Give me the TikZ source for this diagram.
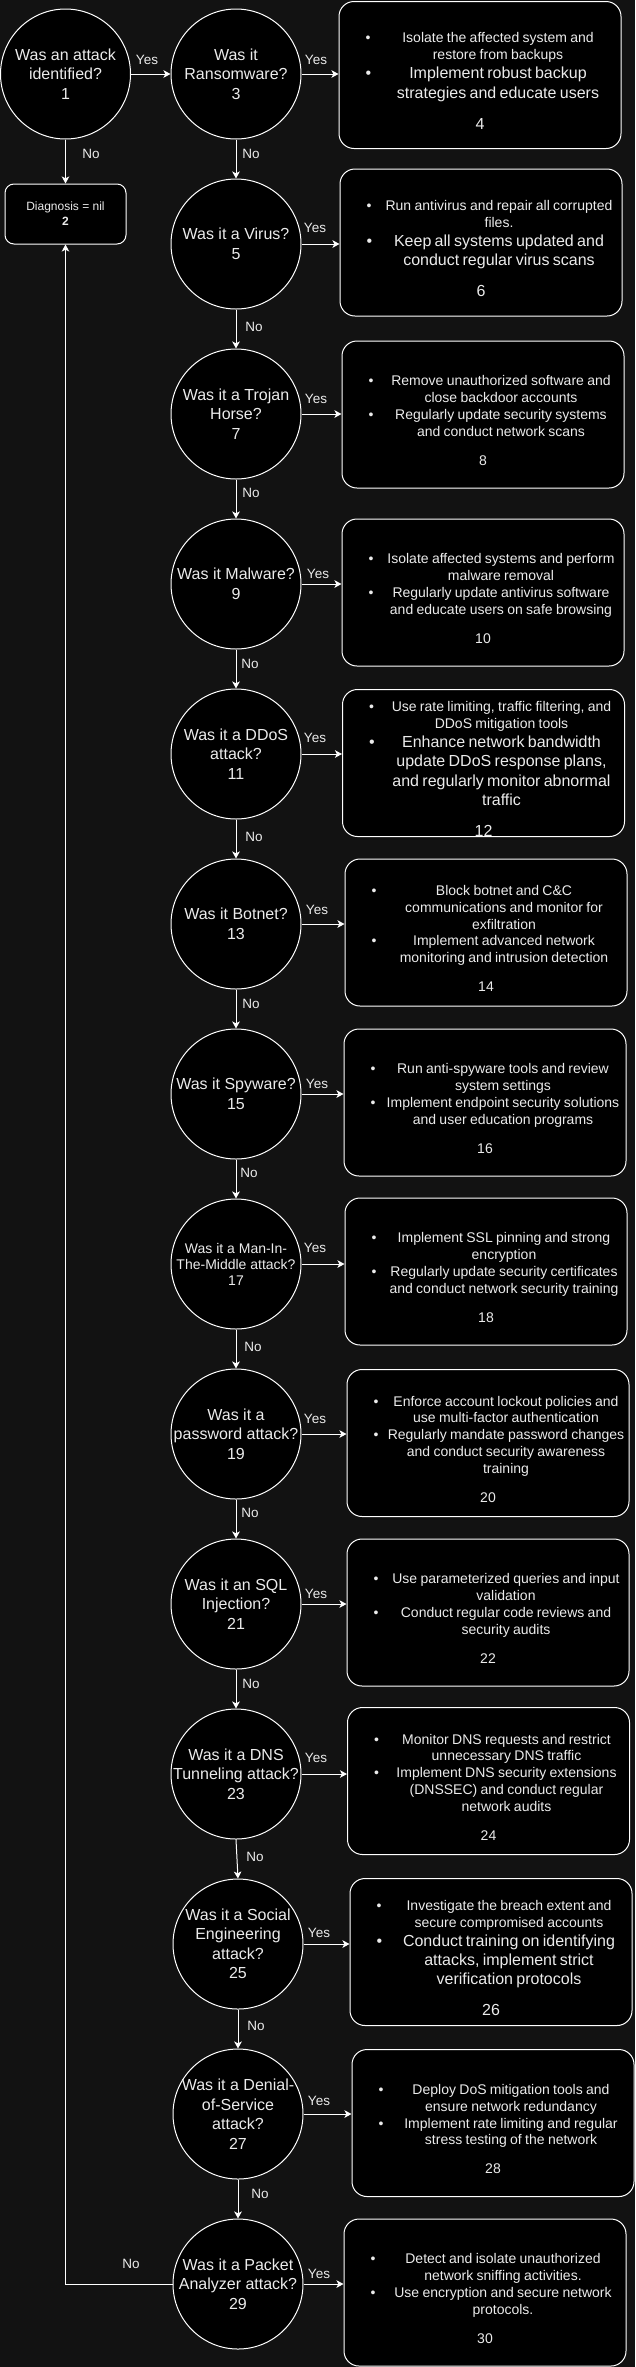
\documentclass[tikz,border=0pt]{standalone}
\usepackage{fontspec}
\setmainfont{Liberation Sans}
\usetikzlibrary{arrows.meta,shapes.geometric}
\definecolor{bgc}{RGB}{18,18,18}
\definecolor{fgc}{RGB}{235,235,235}
\newcommand\fsA{\fontsize{14}{16.8}\selectfont}
\newcommand\fsB{\fontsize{16}{19.2}\selectfont}
\newcommand\fsE{\fontsize{16}{19.5}\selectfont}
\newcommand\fsM{\fontsize{14}{16}\selectfont}
\newcommand\fsL{\fontsize{13.5}{16}\selectfont}
\newcommand\fsD{\fontsize{12}{15}\selectfont}
\newcommand\bitem[2]{{#1\noindent\hspace*{26.5pt}\makebox[10pt][l]{\textbullet}\parbox[t]{245pt}{\centering #2\strut}\par\prevdepth=\dp\strutbox}}
\newcommand\bnum[2]{{#1\vspace{12pt}\centering\noindent #2\par}}
\tikzset{
  ell/.style={ellipse, draw=white, fill=black, line width=1pt, minimum width=130pt, minimum height=130pt, inner sep=0pt},
  etext/.style={align=center, font=\fsE, text=fgc, inner sep=0pt},
  box/.style={draw=white, fill=black, line width=1pt, rounded corners=15pt, minimum width=282pt, minimum height=147pt, inner sep=0pt},
  box2/.style={draw=white, fill=black, line width=1pt, rounded corners=9pt, minimum width=121pt, minimum height=60pt, inner sep=0pt},
  btext/.style={text width=282pt, inner sep=0pt, text=fgc},
  lab/.style={font=\fsL, text=fgc, inner sep=0pt},
  arr/.style={draw=white, line width=1pt, -{Stealth[length=7pt,width=7.5pt,inset=1.8pt]}},
}
\begin{document}
\begin{tikzpicture}[x=1pt,y=-1pt]
\fill[bgc] (0,0) rectangle (635,2367);
\useasboundingbox (0,0) rectangle (635,2367);

% decision ellipses
\node[ell] (n1) at (65.5,74) {};
\node[ell] (n3) at (236,74) {};
\node[ell] (n5) at (236,244) {};
\node[ell] (n7) at (236,414) {};
\node[ell] (n9) at (236,584) {};
\node[ell] (n11) at (236,754) {};
\node[ell] (n13) at (236,924) {};
\node[ell] (n15) at (236,1094) {};
\node[ell] (n17) at (236,1264) {};
\node[ell] (n19) at (236,1434) {};
\node[ell] (n21) at (236,1604) {};
\node[ell] (n23) at (236,1774) {};
\node[ell] (n25) at (238,1944) {};
\node[ell] (n27) at (238,2114) {};
\node[ell] (n29) at (238,2284) {};

\node[etext] (q1) at (n1) {Was an attack\\identified?\\1};
\node[etext] (q3) at (n3) {Was it\\Ransomware?\\3};
\node[etext] (q5) at (n5) {Was it a Virus?\\5};
\node[etext] (q7) at (n7) {Was it a Trojan\\Horse?\\7};
\node[etext] (q9) at (n9) {Was it Malware?\\9};
\node[etext] (q11) at (n11) {Was it a DDoS\\attack?\\11};
\node[etext] (q13) at (n13) {Was it Botnet?\\13};
\node[etext] (q15) at (n15) {Was it Spyware?\\15};
\node[etext, font=\fsM] (q17) at (n17) {Was it a Man-In-\\The-Middle attack?\\17};
\node[etext] (q19) at (n19) {Was it a\\password attack?\\19};
\node[etext] (q21) at (n21) {Was it an SQL\\Injection?\\21};
\node[etext] (q23) at (n23) {Was it a DNS\\Tunneling attack?\\23};
\node[etext] (q25) at (n25) {Was it a Social\\Engineering\\attack?\\25};
\node[etext] (q27) at (n27) {Was it a Denial-\\of-Service\\attack?\\27};
\node[etext] (q29) at (n29) {Was it a Packet\\Analyzer attack?\\29};

% diagnosis box
\node[box2] (b2) at (65.5,214) {};
\node[align=center, font=\fsD, text=fgc, inner sep=0pt] (q2) at (b2) {Diagnosis = nil\\\textbf{2}};

% action boxes
\node[box] (b4) at (480,75) {};
\node[box] (b6) at (481,242.5) {};
\node[box] (b8) at (483,414.5) {};
\node[box] (b10) at (483,592.5) {};
\node[box] (b12) at (483.5,763) {};
\node[box] (b14) at (486,932.5) {};
\node[box] (b16) at (485,1102.5) {};
\node[box] (b18) at (486,1271.5) {};
\node[box] (b20) at (488,1443) {};
\node[box] (b22) at (488,1612.5) {};
\node[box] (b24) at (488.5,1781) {};
\node[box] (b26) at (491,1952) {};
\node[box] (b28) at (493,2123) {};
\node[box] (b30) at (485,2292.5) {};

\node[btext] (t4) at ([yshift=-6pt]b4.center) {\bitem\fsA{Isolate the affected system and\\restore from backups}\bitem\fsB{Implement robust backup\\strategies and educate users}\bnum\fsB{4}};
\node[btext] (t6) at ([yshift=-6pt]b6.center) {\bitem\fsA{Run antivirus and repair all corrupted\\files.}\bitem\fsB{Keep all systems updated and\\conduct regular virus scans}\bnum\fsB{6}};
\node[btext] (t8) at ([yshift=-6pt]b8.center) {\bitem\fsA{Remove unauthorized software and\\close backdoor accounts}\bitem\fsA{Regularly update security systems\\and conduct network scans}\bnum\fsA{8}};
\node[btext] (t10) at ([yshift=-6pt]b10.center) {\bitem\fsA{Isolate affected systems and perform\\malware removal}\bitem\fsA{Regularly update antivirus software\\and educate users on safe browsing}\bnum\fsA{10}};
\node[btext] (t12) at ([yshift=-6pt]b12.center) {\bitem\fsA{Use rate limiting, traffic filtering, and\\DDoS mitigation tools}\bitem\fsB{Enhance network bandwidth\\update DDoS response plans,\\and regularly monitor abnormal\\traffic}\bnum\fsB{12}};
\node[btext] (t14) at ([yshift=-6pt]b14.center) {\bitem\fsA{Block botnet and C\&C\\communications and monitor for\\exfiltration}\bitem\fsA{Implement advanced network\\monitoring and intrusion detection}\bnum\fsA{14}};
\node[btext] (t16) at ([yshift=-6pt]b16.center) {\bitem\fsA{Run anti-spyware tools and review\\system settings}\bitem\fsA{Implement endpoint security solutions\\and user education programs}\bnum\fsA{16}};
\node[btext] (t18) at ([yshift=-6pt]b18.center) {\bitem\fsA{Implement SSL pinning and strong\\encryption}\bitem\fsA{Regularly update security certificates\\and conduct network security training}\bnum\fsA{18}};
\node[btext] (t20) at ([yshift=-6pt]b20.center) {\bitem\fsA{Enforce account lockout policies and\\use multi-factor authentication}\bitem\fsA{Regularly mandate password changes\\and conduct security awareness\\training}\bnum\fsA{20}};
\node[btext] (t22) at ([yshift=-6pt]b22.center) {\bitem\fsA{Use parameterized queries and input\\validation}\bitem\fsA{Conduct regular code reviews and\\security audits}\bnum\fsA{22}};
\node[btext] (t24) at ([yshift=-6pt]b24.center) {\bitem\fsA{Monitor DNS requests and restrict\\unnecessary DNS traffic}\bitem\fsA{Implement DNS security extensions\\(DNSSEC) and conduct regular\\network audits}\bnum\fsA{24}};
\node[btext] (t26) at ([yshift=-6pt]b26.center) {\bitem\fsA{Investigate the breach extent and\\secure compromised accounts}\bitem\fsB{Conduct training on identifying\\attacks, implement strict\\verification protocols}\bnum\fsB{26}};
\node[btext] (t28) at ([yshift=-6pt]b28.center) {\bitem\fsA{Deploy DoS mitigation tools and\\ensure network redundancy}\bitem\fsA{Implement rate limiting and regular\\stress testing of the network}\bnum\fsA{28}};
\node[btext] (t30) at ([yshift=-6pt]b30.center) {\bitem\fsA{Detect and isolate unauthorized\\network sniffing activities.}\bitem\fsA{Use encryption and secure network\\protocols.}\bnum\fsA{30}};

% Yes connectors
\draw[arr] (n1.east) -- (n3.west);
\draw[arr] (n3.east) -- (n3.east -| b4.west);
\draw[arr] (n5.east) -- (n5.east -| b6.west);
\draw[arr] (n7.east) -- (n7.east -| b8.west);
\draw[arr] (n9.east) -- (n9.east -| b10.west);
\draw[arr] (n11.east) -- (n11.east -| b12.west);
\draw[arr] (n13.east) -- (n13.east -| b14.west);
\draw[arr] (n15.east) -- (n15.east -| b16.west);
\draw[arr] (n17.east) -- (n17.east -| b18.west);
\draw[arr] (n19.east) -- (n19.east -| b20.west);
\draw[arr] (n21.east) -- (n21.east -| b22.west);
\draw[arr] (n23.east) -- (n23.east -| b24.west);
\draw[arr] (n25.east) -- (n25.east -| b26.west);
\draw[arr] (n27.east) -- (n27.east -| b28.west);
\draw[arr] (n29.east) -- (n29.east -| b30.west);

\node[lab] (y1) at (147,60) {Yes};
\node[lab] (y3) at (316,60) {Yes};
\node[lab] (y5) at (315,228) {Yes};
\node[lab] (y7) at (316,399) {Yes};
\node[lab] (y9) at (318,574) {Yes};
\node[lab] (y11) at (315,738) {Yes};
\node[lab] (y13) at (317,910) {Yes};
\node[lab] (y15) at (317,1084) {Yes};
\node[lab] (y17) at (315,1248) {Yes};
\node[lab] (y19) at (315,1419) {Yes};
\node[lab] (y21) at (316,1594) {Yes};
\node[lab] (y23) at (316,1758) {Yes};
\node[lab] (y25) at (319,1933) {Yes};
\node[lab] (y27) at (319,2101) {Yes};
\node[lab] (y29) at (319,2274) {Yes};

% No connectors
\draw[arr] (n1.south) -- (b2.north);
\draw[arr] (n3.south) -- (n5.north);
\draw[arr] (n5.south) -- (n7.north);
\draw[arr] (n7.south) -- (n9.north);
\draw[arr] (n9.south) -- (n11.north);
\draw[arr] (n11.south) -- (n13.north);
\draw[arr] (n13.south) -- (n15.north);
\draw[arr] (n15.south) -- (n17.north);
\draw[arr] (n17.south) -- (n19.north);
\draw[arr] (n19.south) -- (n21.north);
\draw[arr] (n21.south) -- (n23.north);
\draw[arr] (n23.south) -- (n25.north);
\draw[arr] (n25.south) -- (n27.north);
\draw[arr] (n27.south) -- (n29.north);
\draw[arr] (n29.west) -| (b2.south);

\node[lab] (no1) at (91,154) {No};
\node[lab] (no3) at (251,154) {No};
\node[lab] (no5) at (254,327) {No};
\node[lab] (no7) at (251,493) {No};
\node[lab] (no9) at (250,664) {No};
\node[lab] (no11) at (254,837) {No};
\node[lab] (no13) at (251,1004) {No};
\node[lab] (no15) at (249,1173) {No};
\node[lab] (no17) at (253,1347) {No};
\node[lab] (no19) at (250,1513) {No};
\node[lab] (no21) at (251,1684) {No};
\node[lab] (no23) at (255,1857) {No};
\node[lab] (no25) at (256,2026) {No};
\node[lab] (no27) at (260,2194) {No};
\node[lab] (no29) at (131,2264) {No};
\end{tikzpicture}
\end{document}
